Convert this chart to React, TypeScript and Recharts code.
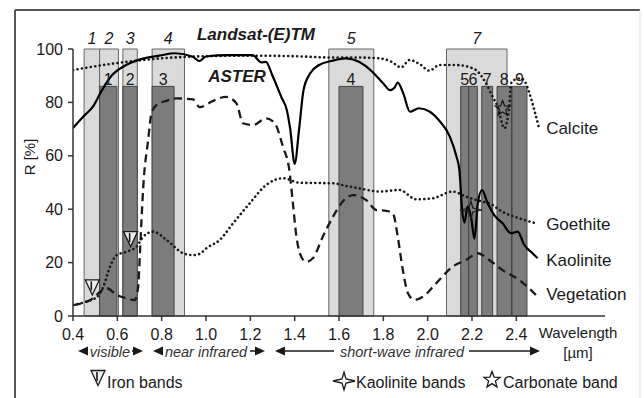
import React from 'react';
import {
  ComposedChart, Line, Scatter, XAxis, YAxis, ReferenceArea, ReferenceDot
} from 'recharts';

const xTicks = [0.4, 0.6, 0.8, 1.0, 1.2, 1.4, 1.6, 1.8, 2.0, 2.2, 2.4];
const yTicks = [0, 20, 40, 60, 80, 100];

// sensor bands: [start µm, end µm, label]
const landsatBands: [number, number, string][] = [
  [0.45, 0.52, '1'], [0.52, 0.605, '2'], [0.625, 0.69, '3'],
  [0.757, 0.903, '4'], [1.554, 1.757, '5'], [2.085, 2.358, '7'],
];
const asterBands: [number, number, string][] = [
  [0.52, 0.598, '1'], [0.625, 0.69, '2'], [0.757, 0.856, '3'], [1.60, 1.708, '4'],
  [2.149, 2.185, '5'], [2.185, 2.224, '6'], [2.244, 2.293, '7'],
  [2.313, 2.378, '8'], [2.381, 2.448, '9'],
];
const landsatTop = 100;
const asterTop = 86;

// spectra: [wavelength µm, reflectance %]
const kaolinite: [number, number][] = [
  [0.40, 70.4], [0.45, 75], [0.49, 78.4], [0.53, 84.5], [0.57, 89.6], [0.64, 94],
  [0.72, 96.5], [0.79, 97.5], [0.86, 98.4], [0.94, 97.1], [0.97, 95.5], [1.0, 97.2],
  [1.10, 97.7], [1.21, 97.7], [1.25, 95], [1.27, 95.2], [1.30, 90], [1.34, 82],
  [1.365, 77], [1.38, 70], [1.40, 57], [1.42, 70], [1.44, 84.6], [1.47, 90.9],
  [1.51, 94], [1.57, 95.6], [1.63, 96.5], [1.69, 95.2], [1.75, 91.5], [1.80, 87.1],
  [1.83, 84.6], [1.85, 85.5], [1.865, 87.4], [1.89, 83.4], [1.92, 76.5], [1.96, 77.8],
  [2.01, 76.5], [2.05, 73.4], [2.10, 67.2], [2.13, 59.7], [2.143, 54.7], [2.155, 40],
  [2.166, 35], [2.18, 41], [2.196, 37], [2.211, 29], [2.226, 42], [2.245, 47.2],
  [2.271, 42.2], [2.30, 37.8], [2.338, 34.7], [2.376, 31], [2.406, 31.6],
  [2.436, 26.6], [2.473, 23.5], [2.496, 21.6],
];
const calcite: [number, number][] = [
  [0.40, 92.1], [0.49, 93.4], [0.57, 94.4], [0.72, 95.9], [0.85, 96.8], [1.0, 97.3],
  [1.20, 97.5], [1.40, 97.3], [1.57, 96.8], [1.69, 96.8], [1.78, 96.5], [1.835, 95.3],
  [1.88, 93.1], [1.918, 95.9], [1.963, 94.4], [2.008, 91.9], [2.053, 94], [2.128, 94],
  [2.203, 92.8], [2.218, 92.1], [2.263, 87.2], [2.293, 82.1], [2.316, 78.4],
  [2.346, 70.3], [2.368, 78.4], [2.376, 87.1], [2.391, 88.4], [2.421, 89],
  [2.443, 87.1], [2.459, 83.4], [2.481, 77.2], [2.504, 69.7],
];
const goethite: [number, number][] = [
  [0.40, 4.1], [0.46, 5.4], [0.51, 7.2], [0.537, 11], [0.567, 18.5], [0.597, 22.8],
  [0.642, 24.1], [0.687, 26], [0.717, 29.7], [0.762, 31.6], [0.822, 28.5],
  [0.897, 23.5], [0.942, 22.8], [0.972, 23.3], [1.002, 25.4], [1.062, 28.5],
  [1.122, 34.7], [1.197, 42.2], [1.272, 49.1], [1.347, 51.6], [1.423, 49.9],
  [1.573, 49.7], [1.633, 48.7], [1.693, 47.8], [1.783, 46.6], [1.873, 47.2],
  [1.948, 43.7], [2.023, 44.1], [2.113, 46.6], [2.173, 44.7], [2.248, 42.8],
  [2.278, 42.2], [2.338, 39], [2.413, 36.6], [2.489, 34.7],
];
const vegetation: [number, number][] = [
  [0.40, 4.1], [0.49, 6.6], [0.522, 9.1], [0.552, 10.4], [0.597, 7.9], [0.642, 6.6],
  [0.679, 6], [0.694, 11], [0.702, 23.5], [0.709, 36], [0.717, 48.4], [0.739, 65.9],
  [0.754, 75.9], [0.777, 79], [0.822, 80.6], [0.867, 81.5], [0.942, 81.1],
  [0.972, 78.2], [1.03, 80.5], [1.09, 82.1], [1.137, 79.7], [1.167, 72.2],
  [1.212, 71.5], [1.272, 74], [1.31, 72.2], [1.347, 63.4], [1.377, 54], [1.392, 42.2],
  [1.408, 29.7], [1.43, 22.2], [1.452, 20.3], [1.482, 21.6], [1.527, 29.7],
  [1.573, 37.2], [1.618, 43], [1.663, 45.3], [1.723, 43.4], [1.768, 39.7],
  [1.813, 39.4], [1.843, 38.5], [1.865, 29.7], [1.888, 17.2], [1.911, 8.5],
  [1.941, 6], [1.978, 7.2], [2.038, 12.2], [2.113, 18.5], [2.173, 21], [2.226, 23.5],
  [2.278, 21], [2.338, 17.2], [2.413, 13.5], [2.466, 9.7], [2.496, 7.2],
];

// absorption feature markers
const ironMarks: [number, number][] = [[0.487, 10.7], [0.66, 28.8]];
const kaoliniteMarks: [number, number][] = [[2.195, 39.7]];
const carbonateMarks: [number, number][] = [[2.338, 77.7]];

// curve names at right end
const curveLabels: [string, number][] = [
  ['Calcite', 70.4], ['Goethite', 34.5], ['Kaolinite', 21], ['Vegetation', 8.2],
];
const curveLabelX = 2.53;

const pts = (a: [number, number][]) => a.map(([x, r]) => ({ x, r }));

const FONT = '"Liberation Sans", Arial, sans-serif';
const INK = '#1a1a1a';

const ironShape = (p: any) => {
  const { cx, cy } = p;
  return (
    <g>
      <path d={`M${cx - 7},${cy - 7.5}L${cx + 7},${cy - 7.5}L${cx},${cy + 7.5}Z`}
        fill="#eeeeee" stroke={INK} strokeWidth={1.3} />
      <line x1={cx - 1} y1={cy - 6} x2={cx - 1} y2={cy + 3} stroke={INK} strokeWidth={1.6} />
    </g>
  );
};

const fourStar = (cx: number, cy: number, w: number, h: number) =>
  `M${cx},${cy - h}L${cx + 2},${cy - 2}L${cx + w},${cy}L${cx + 2},${cy + 2}` +
  `L${cx},${cy + h}L${cx - 2},${cy + 2}L${cx - w},${cy}L${cx - 2},${cy - 2}Z`;

const fiveStar = (cx: number, cy: number, ro: number, ri: number) => {
  let d = '';
  for (let i = 0; i < 10; i++) {
    const rr = i % 2 === 0 ? ro : ri;
    const a = -Math.PI / 2 + (i * Math.PI) / 5;
    d += (i === 0 ? 'M' : 'L') + (cx + rr * Math.cos(a)).toFixed(1) + ',' + (cy + rr * Math.sin(a)).toFixed(1);
  }
  return d + 'Z';
};

const kaoShape = (p: any) => (
  <path d={fourStar(p.cx, p.cy, 11, 9)} fill="none" stroke={INK} strokeWidth={1.2} />
);
const carbShape = (p: any) => (
  <path d={fiveStar(p.cx, p.cy, 8, 3.4)} fill="none" stroke={INK} strokeWidth={1.2} />
);

// arrow row under the x axis
const Arrow = ({ x1, x2, t1, t2, y }: { x1: number; x2: number; t1: number; t2: number; y: number }) => (
  <g>
    <line x1={x1 + 6} y1={y} x2={t1} y2={y} stroke={INK} strokeWidth={1.5} />
    <line x1={t2} y1={y} x2={x2 - 6} y2={y} stroke={INK} strokeWidth={1.5} />
    <path d={`M${x1},${y}L${x1 + 10},${y - 4.5}L${x1 + 10},${y + 4.5}Z`} fill={INK} />
    <path d={`M${x2},${y}L${x2 - 10},${y - 4.5}L${x2 - 10},${y + 4.5}Z`} fill={INK} />
  </g>
);

const Overlay = () => (
  <svg width={644} height={398} style={{ position: 'absolute', left: 0, top: 0, pointerEvents: 'none' }}
    fontFamily={FONT}>
    <line x1={15} y1={10} x2={640} y2={10} stroke="#555" strokeWidth={2} />
    <line x1={15} y1={10} x2={15} y2={398} stroke="#555" strokeWidth={2} />
    <line x1={640} y1={10} x2={640} y2={398} stroke="#ddd" strokeWidth={1} />

    <text x={256} y={40} textAnchor="middle" fontSize={17} fontWeight="bold" fontStyle="italic" fill={INK}>Landsat-(E)TM</text>
    <text x={237} y={82} textAnchor="middle" fontSize={17} fontWeight="bold" fontStyle="italic" fill={INK}>ASTER</text>

    <text transform="translate(35,157) rotate(-90)" textAnchor="middle" fontSize={15} fill={INK}>R [%]</text>

    <text x={578} y={338} textAnchor="middle" fontSize={15} fill={INK}>Wavelength</text>
    <text x={578} y={358} textAnchor="middle" fontSize={15} fill={INK}>[µm]</text>

    <Arrow x1={78} x2={143} t1={88} t2={132} y={351} />
    <text x={110} y={357} textAnchor="middle" fontSize={14.5} fontStyle="italic" fill="#333">visible</text>
    <Arrow x1={153} x2={265} t1={161} t2={250} y={351} />
    <text x={206} y={357} textAnchor="middle" fontSize={14.5} fontStyle="italic" fill="#333">near infrared</text>
    <Arrow x1={275} x2={540} t1={334} t2={469} y={351} />
    <text x={402} y={357} textAnchor="middle" fontSize={14.5} fontStyle="italic" fill="#333">short-wave infrared</text>

    {ironShape({ cx: 98, cy: 378 })}
    <text x={107} y={388} fontSize={16} fill={INK}>Iron bands</text>
    <path d={fourStar(344, 381, 11, 9)} fill="none" stroke={INK} strokeWidth={1.3} />
    <text x={356} y={388} fontSize={16} fill={INK}>Kaolinite bands</text>
    <path d={fiveStar(492, 380, 8.5, 3.6)} fill="none" stroke={INK} strokeWidth={1.3} />
    <text x={503} y={388} fontSize={16} fill={INK}>Carbonate band</text>
  </svg>
);

const dotted = { strokeDasharray: '0.1 4.4', strokeLinecap: 'round' as const, strokeWidth: 2.6 };

export default function App() {
  return (
    <div style={{ position: 'absolute', left: 0, top: 0, width: 644, height: 398, background: '#fff', fontFamily: FONT }}>
      <ComposedChart width={644} height={398} margin={{ top: 49, right: 39, bottom: 52, left: 33 }}>
        <XAxis dataKey="x" type="number" domain={[0.4, 2.8]} ticks={xTicks}
          tickFormatter={(v: number) => v.toFixed(1)} height={30} tickSize={5} tickMargin={8}
          tick={{ fontSize: 16, fill: INK }} stroke="#333" strokeWidth={1.5} allowDataOverflow />
        <YAxis type="number" domain={[0, 100]} ticks={yTicks} width={40} tickSize={5} tickMargin={5}
          tick={{ fontSize: 16, fill: INK }} stroke="#333" strokeWidth={1.5} allowDataOverflow />

        {landsatBands.map(([a, b, n]) => (
          <ReferenceArea key={'l' + n} x1={a} x2={b} y1={0} y2={landsatTop}
            fill="#dadada" fillOpacity={1} stroke="#666" strokeWidth={1}
            label={{ value: n, position: 'top', offset: 5, fontSize: 16, fontStyle: 'italic', fill: INK }} />
        ))}
        {asterBands.map(([a, b, n]) => (
          <ReferenceArea key={'a' + n} x1={a} x2={b} y1={0} y2={asterTop}
            fill="#7c7c7c" fillOpacity={1} stroke="#444" strokeWidth={1}
            label={{ value: n, position: 'top', offset: 1, fontSize: 16, fill: INK }} />
        ))}

        <Line data={pts(calcite)} dataKey="r" type="monotone" stroke={INK} {...dotted}
          dot={false} isAnimationActive={false} />
        <Line data={pts(goethite)} dataKey="r" type="monotone" stroke={INK} {...dotted}
          dot={false} isAnimationActive={false} />
        <Line data={pts(vegetation)} dataKey="r" type="monotone" stroke={INK} strokeWidth={2.3}
          strokeDasharray="8 5" dot={false} isAnimationActive={false} />
        <Line data={pts(kaolinite)} dataKey="r" type="monotone" stroke="#000" strokeWidth={2.2}
          dot={false} isAnimationActive={false} />

        <Scatter data={pts(ironMarks)} dataKey="r" shape={ironShape} isAnimationActive={false} />
        <Scatter data={pts(kaoliniteMarks)} dataKey="r" shape={kaoShape} isAnimationActive={false} />
        <Scatter data={pts(carbonateMarks)} dataKey="r" shape={carbShape} isAnimationActive={false} />

        {curveLabels.map(([name, r]) => (
          <ReferenceDot key={name} x={curveLabelX} y={r} r={0} stroke="none" fill="none"
            label={{ value: name, position: 'right', offset: 1, fontSize: 17, fill: INK }} />
        ))}
      </ComposedChart>
      <Overlay />
    </div>
  );
}
